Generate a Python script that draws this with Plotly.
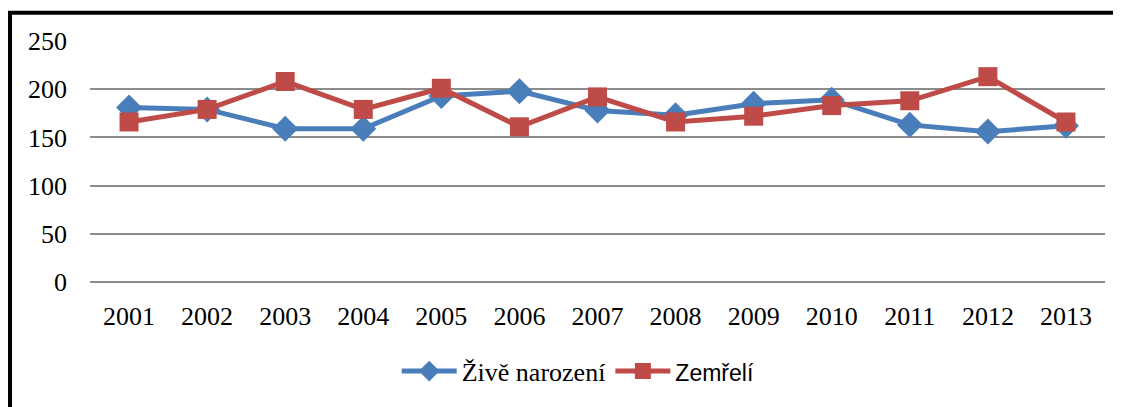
import plotly.graph_objects as go

years = ["2001", "2002", "2003", "2004", "2005", "2006", "2007",
         "2008", "2009", "2010", "2011", "2012", "2013"]
zive_narozeni = [181, 179, 159, 159, 193, 198, 178, 173, 185, 189, 163, 156, 162]
zemreli = [166, 179, 208, 179, 201, 161, 192, 166, 172, 183, 188, 213, 166]

blue = "#4A7EBB"
red = "#BE4B48"
serif = "Liberation Serif"

fig = go.Figure()
fig.add_trace(go.Scatter(x=years, y=zive_narozeni, mode="lines+markers",
                         name="Živě narození",
                         line=dict(color=blue, width=5),
                         marker=dict(symbol="diamond", size=20, color=blue)))
fig.add_trace(go.Scatter(x=years, y=zemreli, mode="lines+markers",
                         name='<span style="font-family:Liberation Sans;font-size:23px">Zemřelí</span>',
                         line=dict(color=red, width=5),
                         marker=dict(symbol="square", size=19, color=red)))

# outer frame of the chart area (left and top edges visible)
fig.add_shape(type="rect", xref="paper", yref="paper",
              x0=-0.0788, x1=1.03, y0=-0.55, y1=1.117,
              line=dict(color="black", width=4), layer="above")

fig.update_layout(
    width=1113, height=399,
    margin=dict(l=82, r=16, t=33, b=122),
    paper_bgcolor="white", plot_bgcolor="white",
    font=dict(family=serif, size=26, color="black"),
    xaxis=dict(range=[-0.5, 12.5], showgrid=False, showline=False, ticks="",
               ticklabelstandoff=16,
               tickfont=dict(family=serif, size=26, color="black")),
    yaxis=dict(range=[0, 250], dtick=50, showgrid=True, gridcolor="#8C8C8C",
               gridwidth=2, zeroline=True, zerolinecolor="#8C8C8C", zerolinewidth=2,
               ticks="", ticklabelstandoff=22,
               tickfont=dict(family=serif, size=26, color="black")),
    legend=dict(orientation="h", x=0.481, xanchor="center", y=-0.37, yanchor="middle",
                font=dict(family=serif, size=26, color="black"),
                itemwidth=55, traceorder="normal"),
    showlegend=True,
)

fig.write_html("out.html")
